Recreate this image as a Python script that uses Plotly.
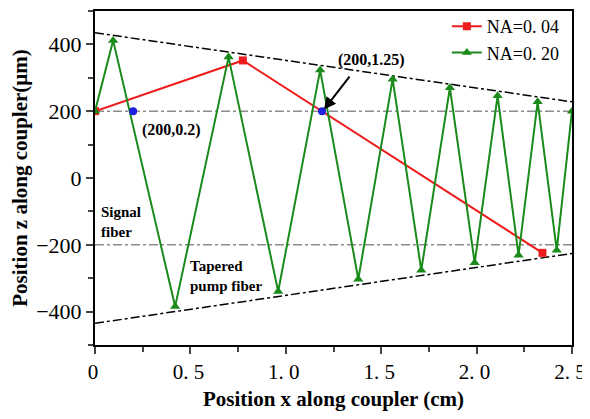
import plotly.graph_objects as go

# Data
red_x = [0.0, 0.775, 2.345]
red_z = [200, 352, -224]
green_x = [0.0, 0.095, 0.42, 0.70, 0.96, 1.18, 1.38, 1.56, 1.71, 1.86, 1.99, 2.11, 2.22, 2.32, 2.42, 2.5]
green_z = [200, 412, -385, 362, -340, 323, -303, 296, -276, 270, -254, 246, -231, 228, -216, 200]
blue_x = [0.2, 1.19]
blue_z = [200, 200]
bound_x = [0.0, 2.5]
upper_z = [435, 228]
lower_z = [-435, -226]
grey_x = [0.0, 2.5]
grey_top = [200, 200]
grey_bot = [-200, -200]
x_ticks = [0, 0.5, 1.0, 1.5, 2.0, 2.5]
x_ticktext = ["0", "0. 5", "1. 0", "1. 5", "2. 0", "2. 5"]
y_ticks = [-400, -200, 0, 200, 400]

serif = "Liberation Serif, Times New Roman, serif"

fig = go.Figure()
fig.add_trace(go.Scatter(x=grey_x, y=grey_top, mode="lines", showlegend=False,
                         line=dict(color="#8c8c8c", width=1.5, dash="dashdot")))
fig.add_trace(go.Scatter(x=grey_x, y=grey_bot, mode="lines", showlegend=False,
                         line=dict(color="#8c8c8c", width=1.5, dash="dashdot")))
fig.add_trace(go.Scatter(x=bound_x, y=upper_z, mode="lines", showlegend=False,
                         line=dict(color="black", width=1.5, dash="dashdot")))
fig.add_trace(go.Scatter(x=bound_x, y=lower_z, mode="lines", showlegend=False,
                         line=dict(color="black", width=1.5, dash="dashdot")))
fig.add_trace(go.Scatter(x=red_x, y=red_z, mode="lines+markers", name="NA=0. 04",
                         line=dict(color="#ee1c1c", width=2),
                         marker=dict(symbol="square", size=8, color="#ee1c1c")))
fig.add_trace(go.Scatter(x=green_x, y=green_z, mode="lines+markers", name="NA=0. 20",
                         line=dict(color="#1a8a1a", width=2),
                         marker=dict(symbol="triangle-up", size=9, color="#1a8a1a")))
fig.add_trace(go.Scatter(x=blue_x, y=blue_z, mode="markers", showlegend=False,
                         marker=dict(symbol="circle", size=8, color="#1f1fe0")))

ann_font = dict(family=serif, size=16, color="black")
fig.add_annotation(x=0.40, y=143, text="<b>(200,0.2)</b>", showarrow=False, font=ann_font)
fig.add_annotation(x=1.45, y=352, text="<b>(200,1.25)</b>", showarrow=False, font=ann_font)
fig.add_annotation(x=1.2, y=205, ax=1.34, ay=308, axref="x", ayref="y", text="",
                   showarrow=True, arrowhead=2, arrowsize=1.2, arrowwidth=2, arrowcolor="black")
fig.add_annotation(x=0.02, y=-133, text="<b>Signal<br>fiber</b>", showarrow=False,
                   xanchor="left", align="left", font=dict(family=serif, size=15, color="black"))
fig.add_annotation(x=0.49, y=-293, text="<b>Tapered<br>pump fiber</b>", showarrow=False,
                   xanchor="left", align="left", font=dict(family=serif, size=15, color="black"))

# page body adds an 8px offset; the figure is sized so the page does not scroll
fig.update_layout(
    width=574, height=403,
    margin=dict(l=87, r=10, t=0, b=66),
    paper_bgcolor="white", plot_bgcolor="white",
    font=dict(family=serif, size=22, color="black"),
    legend=dict(x=0.985, y=1.01, xanchor="right", yanchor="top",
                bgcolor="rgba(0,0,0,0)", font=dict(family=serif, size=18),
                tracegroupgap=0),
    xaxis=dict(range=[0, 2.5], tickvals=x_ticks, ticktext=x_ticktext, automargin=False,
               ticklabeloverflow="allow", ticklabelshift=-2, tickfont=dict(size=21),
               showgrid=False, zeroline=False, showline=True, linecolor="black",
               linewidth=2, mirror=True, ticks="outside", ticklen=7, tickwidth=2,
               minor=dict(ticks="outside", ticklen=5, tickwidth=1.5, dtick=0.25, tick0=0),
               title=dict(text="<b>Position x along coupler (cm)</b>", font=dict(size=21),
                          standoff=12)),
    yaxis=dict(range=[-500, 500], tickvals=y_ticks, automargin=False,
               showgrid=False, zeroline=False, showline=True, linecolor="black",
               linewidth=2, mirror=True, ticks="outside", ticklen=7, tickwidth=2,
               minor=dict(ticks="outside", ticklen=5, tickwidth=1.5, dtick=100, tick0=0),
               title=dict(text="<b>Position z along coupler(μm)</b>", font=dict(size=21),
                          standoff=10)),
)

fig.write_html("out.html")
